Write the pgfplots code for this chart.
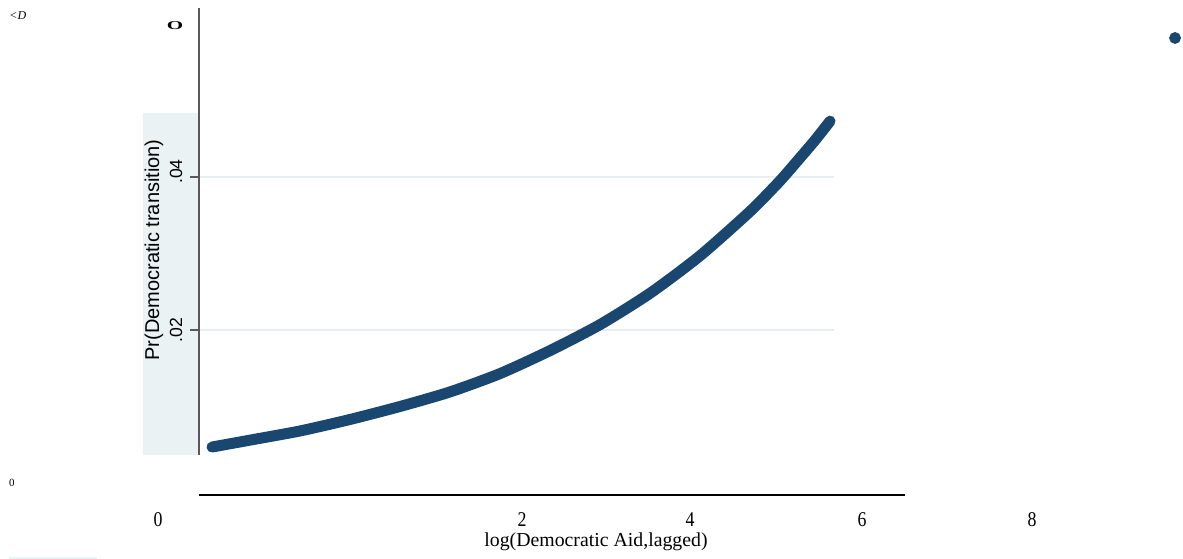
\documentclass[border=0pt]{standalone}
\usepackage{fontspec}
\setmainfont{Liberation Serif}
\setsansfont{Liberation Sans}
\usepackage{pgfplots}
\pgfplotsset{compat=1.18}
\definecolor{stnavy}{HTML}{1A476F}
\definecolor{stshade}{HTML}{EAF2F3}
\definecolor{stgrid}{HTML}{E6EEF0}
\begin{document}
\begin{tikzpicture}
\begin{axis}[
  scale only axis,
  width=591.5pt, height=279.5pt,
  xmin=-4.1246, xmax=9.7767,
  ymin=-0.009935, ymax=0.063137,
  axis lines=none,
  xtick=\empty, ytick=\empty,
  clip=false,
]
\path (rel axis cs:0,0) rectangle (rel axis cs:1,1);
% shaded region behind y labels
\fill[stshade] (axis cs:-2.444,0.00366) rectangle (axis cs:-1.786,0.04837);
\fill[stshade] (axis cs:-4.019,-0.00967) rectangle (axis cs:-2.985,-0.009935);
% gridlines
\draw[stgrid, line width=0.8pt] (axis cs:-1.786,0.02) -- (axis cs:5.676,0.02);
\draw[stgrid, line width=0.8pt] (axis cs:-1.786,0.04) -- (axis cs:5.676,0.04);
% tick marks
\draw[black!65, line width=0.6pt] (axis cs:-1.892,0.02) -- (axis cs:-1.786,0.02);
\draw[black!65, line width=0.6pt] (axis cs:-1.892,0.04) -- (axis cs:-1.786,0.04);
% y axis line
\draw[black!65, line width=0.8pt] (axis cs:-1.786,0.00366) -- (axis cs:-1.786,0.06209);
% x axis line
\draw[black, line width=0.7pt] (axis cs:-1.786,-0.001569) -- (axis cs:6.510,-0.001569);
% curve
\addplot[stnavy, line width=5.5pt, line cap=round, line join=round, smooth, tension=0.4] coordinates {
(-1.633,0.0047) (-1.187,0.0056) (-0.599,0.0068) (-0.012,0.0083) (0.576,0.0100)
(1.163,0.0119) (1.751,0.0143) (2.338,0.0173) (2.926,0.0207) (3.514,0.0248)
(4.101,0.0297) (4.689,0.0355) (5.041,0.0395) (5.276,0.0425) (5.452,0.0448) (5.629,0.0473)
};
% lone dot
\addplot[only marks, mark=*, mark size=2.75pt, stnavy, mark options={fill=stnavy, draw=stnavy}] coordinates {(9.683,0.05817)};
% tick labels x
\node[font=\fontsize{10.5}{12}\selectfont, xscale=0.85] at (axis cs:-2.268,-0.00484) {0};
\node[font=\fontsize{10.5}{12}\selectfont, xscale=0.85] at (axis cs:2.009,-0.00484) {2};
\node[font=\fontsize{10.5}{12}\selectfont, xscale=0.85] at (axis cs:3.984,-0.00484) {4};
\node[font=\fontsize{10.5}{12}\selectfont, xscale=0.85] at (axis cs:6.005,-0.00484) {6};
\node[font=\fontsize{10.5}{12}\selectfont, xscale=0.85] at (axis cs:8.002,-0.00484) {8};
\node[font=\fontsize{9.9}{11}\selectfont] at (axis cs:2.879,-0.00765) {log(Democratic Aid,lagged)};
% y labels
\node[font=\sffamily\fontsize{10}{11}\selectfont, rotate=90] at (axis cs:-2.315,0.03046) {Pr(Democratic transition)};
\node[font=\sffamily\fontsize{8.8}{9}\selectfont, rotate=90] at (axis cs:-2.056,0.0407) {.04};
\node[font=\sffamily\fontsize{8.8}{9}\selectfont, rotate=90] at (axis cs:-2.056,0.0200) {.02};
% stray texts
\node[font=\bfseries\fontsize{6}{7}\selectfont, xscale=1.75] at (axis cs:-2.068,0.05974) {O};
\node[font=\itshape\fontsize{6}{7}\selectfont] at (axis cs:-3.915,0.06105) {<D};
\node[font=\fontsize{5.5}{6}\selectfont] at (axis cs:-3.984,0.0) {0};
\end{axis}
\end{tikzpicture}
\end{document}
